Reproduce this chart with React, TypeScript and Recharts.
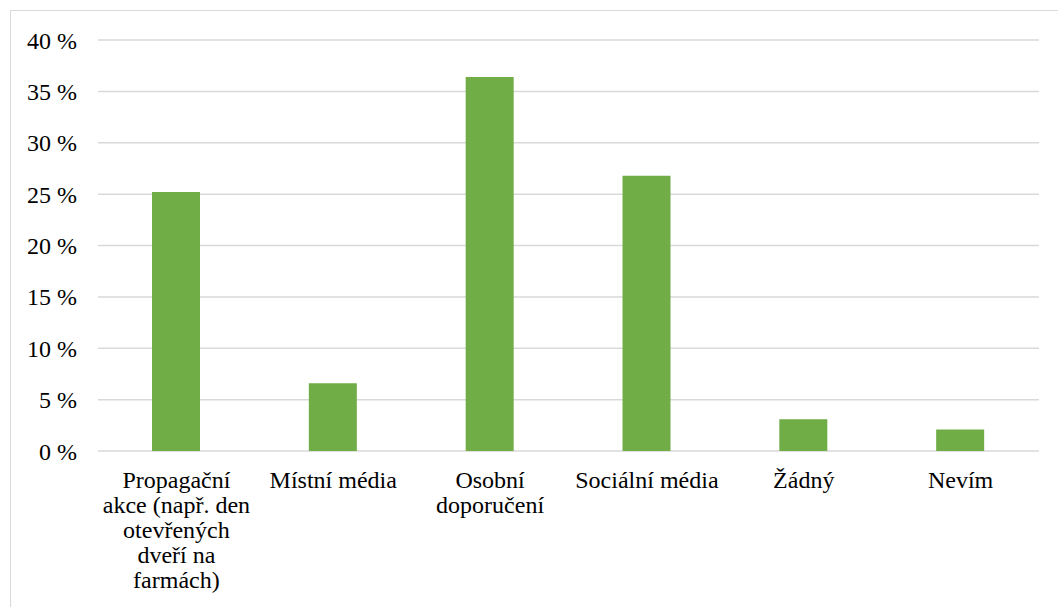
import { BarChart, Bar, XAxis, YAxis, CartesianGrid } from 'recharts'

const categories = [
  'Propagační akce (např. den otevřených dveří na farmách)',
  'Místní média',
  'Osobní doporučení',
  'Sociální média',
  'Žádný',
  'Nevím',
]
const shares = [25.2, 6.6, 36.4, 26.8, 3.1, 2.1]
const yTicks = [0, 5, 10, 15, 20, 25, 30, 35, 40]

const FONT = 'Liberation Serif'
const FONT_SIZE = 24
const WRAP = 155

const data = categories.map((name, i) => ({ name, value: shares[i] }))

let ctx: CanvasRenderingContext2D | null = null
function measure(s: string): number {
  if (!ctx) ctx = document.createElement('canvas').getContext('2d')
  if (!ctx) return s.length * FONT_SIZE * 0.5
  ctx.font = `${FONT_SIZE}px "${FONT}"`
  return ctx.measureText(s).width
}

function wrap(label: string): string[] {
  const lines: string[] = []
  let cur = ''
  for (const w of label.split(' ')) {
    const next = cur ? `${cur} ${w}` : w
    if (cur && measure(next) > WRAP) {
      lines.push(cur)
      cur = w
    } else cur = next
  }
  if (cur) lines.push(cur)
  return lines
}

function CategoryTick({ x, y, payload }: { x?: number; y?: number; payload?: { value: string } }) {
  const lines = wrap(payload?.value ?? '')
  return (
    <text x={x} y={y} textAnchor="middle" fill="#000" style={{ fontFamily: FONT, fontSize: FONT_SIZE }}>
      {lines.map((l, i) => (
        <tspan key={i} x={x} dy={i === 0 ? 17 : 25}>{l}</tspan>
      ))}
    </text>
  )
}

export default function App() {
  return (
    <div style={{ position: 'absolute', left: 0, top: 0, width: 1058, height: 607, background: '#fff', overflow: 'hidden', fontFamily: FONT }}>
      <div
        style={{
          position: 'absolute',
          left: 10,
          top: 10,
          width: 1100,
          height: 700,
          border: '1px solid #d9d9d9',
        }}
      />
      <div style={{ position: 'absolute', left: 0, top: 0 }}>
        <BarChart
          width={1058}
          height={607}
          data={data}
          margin={{ top: 40, right: 19, bottom: 0, left: 0 }}
          barCategoryGap={0}
        >
          <CartesianGrid vertical={false} stroke="#d9d9d9" strokeWidth={1.5} />
          <XAxis
            dataKey="name"
            interval={0}
            height={156}
            axisLine={false}
            tickLine={false}
            tickSize={0}
            tickMargin={20}
            tick={<CategoryTick />}
          />
          <YAxis
            domain={[0, 40]}
            ticks={yTicks}
            width={98}
            axisLine={false}
            tickLine={false}
            tickSize={0}
            tickMargin={21}
            tickFormatter={v => `${v} %`}
            tick={{ fontFamily: FONT, fontSize: FONT_SIZE, fill: '#000' }}
          />
          <Bar dataKey="value" fill="#70ad47" barSize={48} isAnimationActive={false} />
        </BarChart>
      </div>
    </div>
  )
}
